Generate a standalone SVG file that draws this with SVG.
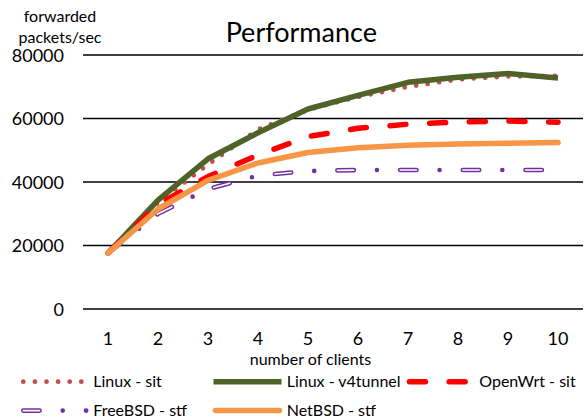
<svg xmlns="http://www.w3.org/2000/svg" width="587" height="419" viewBox="0 0 587 419">
  <style>
    text { font-family: Lato, "Open Sans", "Liberation Sans", sans-serif; fill: #000; }
    .title { font-size: 27px; text-anchor: middle; }
    .tick { font-size: 18px; }
    .ytick { text-anchor: end; }
    .xtick { text-anchor: middle; }
    .lbl { font-size: 16px; }
    .grid { stroke: #000; stroke-width: 1.5; fill: none; }
    .s { fill: none; stroke-linejoin: round; }
    .sit { stroke: #C0504D; stroke-width: 4.8; stroke-linecap: round; stroke-dasharray: 0 11.6; }
    .v4 { stroke: #4F6228; stroke-width: 5.5; }
    .owrt { stroke: #FF0000; stroke-width: 5.5; stroke-linecap: round; stroke-dasharray: 16 23.7; }
    .fbsd { stroke: #7030A0; stroke-width: 4.6; stroke-linecap: round; stroke-dasharray: 16.4 23.1 0 23.2; }
    .fbsd-in { stroke: #FFFFFF; stroke-width: 1.6; stroke-linecap: round; stroke-dasharray: 16.4 46.3; }
    .nbsd { stroke: #F79646; stroke-width: 5.5; stroke-linecap: round; }
  </style>

  <!-- title and axis titles -->
  <text class="title" x="301.3" y="41.7">Performance</text>
  <g id="y-axis-title">
    <text class="lbl" x="60" y="21.7" text-anchor="middle">forwarded</text>
    <text class="lbl" x="60" y="43.3" text-anchor="middle">packets/sec</text>
  </g>
  <text class="lbl" x="310.5" y="365" text-anchor="middle">number of clients</text>

  <!-- horizontal gridlines (0 line doubles as x axis) -->
  <g id="gridlines">
    <line class="grid" x1="83" y1="55" x2="583" y2="55"/>
    <line class="grid" x1="83" y1="118.5" x2="583" y2="118.5"/>
    <line class="grid" x1="83" y1="182" x2="583" y2="182"/>
    <line class="grid" x1="83" y1="245.5" x2="583" y2="245.5"/>
    <line class="grid" x1="83" y1="309" x2="583" y2="309"/>
  </g>

  <g id="y-ticks" class="tick ytick">
    <text x="64" y="61.7">80000</text>
    <text x="64" y="125.2">60000</text>
    <text x="64" y="188.7">40000</text>
    <text x="64" y="252.2">20000</text>
    <text x="64" y="315.7">0</text>
  </g>

  <g id="x-ticks" class="tick xtick">
    <text x="108" y="345">1</text>
    <text x="158" y="345">2</text>
    <text x="208" y="345">3</text>
    <text x="258" y="345">4</text>
    <text x="308" y="345">5</text>
    <text x="358" y="345">6</text>
    <text x="408" y="345">7</text>
    <text x="458" y="345">8</text>
    <text x="508" y="345">9</text>
    <text x="558" y="345">10</text>
  </g>

  <!-- data series, drawn in legend order -->
  <g id="series">
    <polyline id="linux-sit" class="s sit" points="108,253.1 158,202.6 208,164.5 258,129.6 308,109.6 358,96.9 408,86.8 458,79.4 508,76.3 558,76"/>
    <polyline id="linux-v4tunnel" class="s v4" points="108,253.1 158,200.1 208,158.8 258,132.8 308,109 358,95.3 408,82.3 458,77.2 508,73.4 558,77.9"/>
    <polyline id="openwrt-sit" class="s owrt" points="108,253.1 158,204.2 208,176.6 258,155 308,136.6 358,128.3 408,124.2 458,122 508,121 558,122.3"/>
    <g id="freebsd-stf">
      <polyline class="s fbsd" points="108,253.1 158,213.8 208,189 258,175.6 308,171 358,170 408,170 458,170 508,170 558,170"/>
      <polyline class="s fbsd-in" points="108,253.1 158,213.8 208,189 258,175.6 308,171 358,170 408,170 458,170 508,170 558,170"/>
    </g>
    <polyline id="netbsd-stf" class="s nbsd" points="108,253.1 158,209 208,180.4 258,163 308,152.5 358,147.7 408,145.2 458,143.9 508,143.3 558,142.6"/>
  </g>

  <!-- legend -->
  <g id="legend">
    <g id="legend-linux-sit">
      <line class="sit" x1="23.3" y1="381.7" x2="82" y2="381.7"/>
      <text class="lbl" x="93.3" y="387.3">Linux - sit</text>
    </g>
    <g id="legend-linux-v4tunnel">
      <line class="v4" x1="213.5" y1="381.7" x2="281.5" y2="381.7"/>
      <text class="lbl" x="286.7" y="387.3">Linux - v4tunnel</text>
    </g>
    <g id="legend-openwrt-sit">
      <line class="owrt" x1="409.45" y1="381.7" x2="465.5" y2="381.7"/>
      <text class="lbl" x="479.3" y="387.3">OpenWrt - sit</text>
    </g>
    <g id="legend-freebsd-stf">
      <line class="fbsd" x1="23.25" y1="410.6" x2="86.2" y2="410.6"/>
      <line class="fbsd-in" x1="23.25" y1="410.6" x2="80" y2="410.6"/>
      <text class="lbl" x="93.3" y="416.4">FreeBSD - stf</text>
    </g>
    <g id="legend-netbsd-stf">
      <line class="nbsd" x1="215.5" y1="410.6" x2="279.5" y2="410.6"/>
      <text class="lbl" x="286.7" y="416.4">NetBSD - stf</text>
    </g>
  </g>
</svg>
